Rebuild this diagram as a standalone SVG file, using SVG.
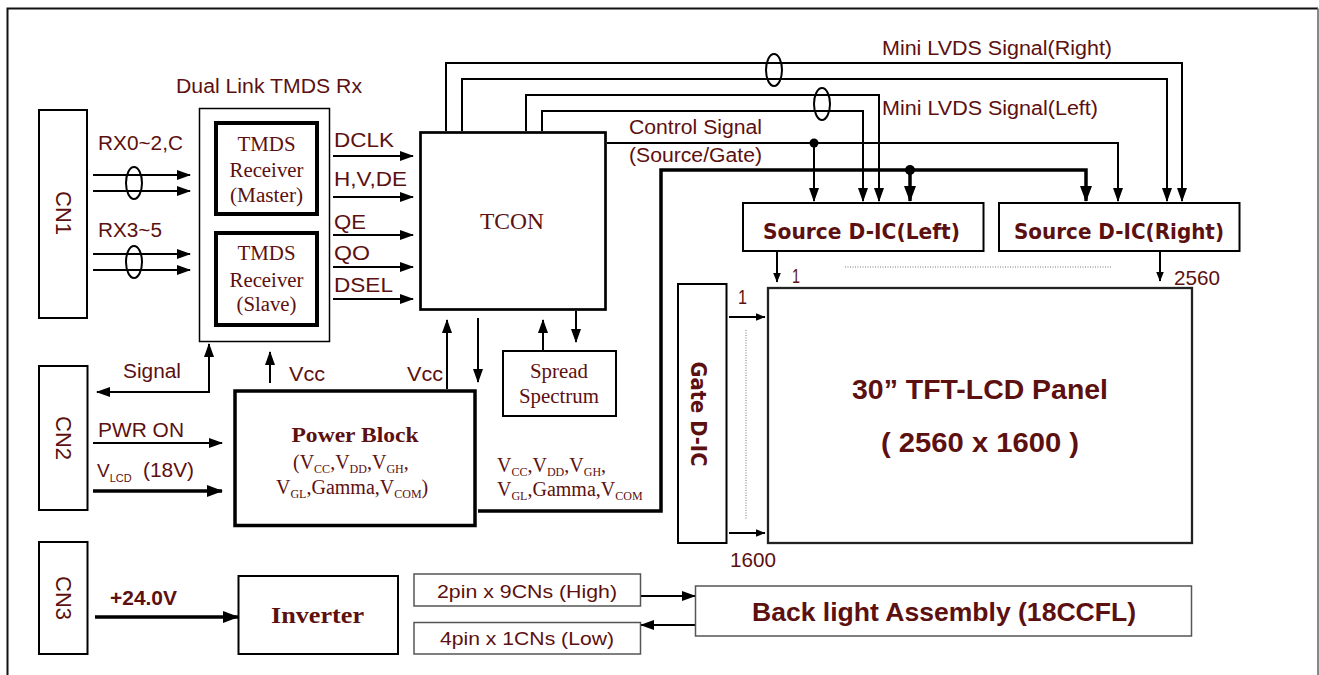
<svg xmlns="http://www.w3.org/2000/svg" width="1319" height="675" viewBox="0 0 1319 675">
<style>
.t{font-family:"Liberation Sans",Arial,sans-serif;fill:#5c1010}
.s{font-family:"Liberation Serif","Times New Roman",serif;fill:#5c1010}
.m{font-family:"DejaVu Sans",sans-serif;font-weight:bold;fill:#5c1010}
.box{fill:#fff;stroke:#000;stroke-width:2}
.gbox{fill:#fff;stroke:#555;stroke-width:1.5}
.ln{fill:none;stroke:#000;stroke-width:2}
.thk{fill:none;stroke:#000;stroke-width:3.5}
.dot{fill:none;stroke:#777;stroke-width:1;stroke-dasharray:1 1.5}
</style>
<defs>
<marker id="ah" viewBox="0 0 14 10" refX="13" refY="5" markerWidth="14" markerHeight="10" markerUnits="userSpaceOnUse" orient="auto-start-reverse"><path d="M0,0 L14,5 L0,10 z" fill="#000"/></marker>
<marker id="aT" viewBox="0 0 16 12" refX="15" refY="6" markerWidth="16" markerHeight="12" markerUnits="userSpaceOnUse" orient="auto"><path d="M0,0 L16,6 L0,12 z" fill="#000"/></marker>
<marker id="aS" viewBox="0 0 10 8" refX="9.5" refY="4" markerWidth="10" markerHeight="8" markerUnits="userSpaceOnUse" orient="auto"><path d="M0,0 L10,4 L0,8 z" fill="#000"/></marker>
</defs>
<rect width="1319" height="675" fill="#fff"/>
<path d="M7.5,675 V8.5 H1318" fill="none" stroke="#111" stroke-width="2"/>
<path d="M1318,8.5 V675" fill="none" stroke="#888" stroke-width="2"/>

<g id="connectors">
<path class="ln" d="M93,175 H190" marker-end="url(#ah)"/>
<path class="ln" d="M93,191 H190" marker-end="url(#ah)"/>
<path class="ln" d="M93,254 H190" marker-end="url(#ah)"/>
<path class="ln" d="M93,270 H190" marker-end="url(#ah)"/>
<ellipse cx="134" cy="183" rx="8" ry="16" class="ln"/>
<ellipse cx="134" cy="262" rx="8" ry="16" class="ln"/>
<path class="ln" d="M333,156 H413" marker-end="url(#ah)"/>
<path class="ln" d="M333,197 H413" marker-end="url(#ah)"/>
<path class="ln" d="M333,235 H413" marker-end="url(#ah)"/>
<path class="ln" d="M333,267 H413" marker-end="url(#ah)"/>
<path class="ln" d="M333,299 H413" marker-end="url(#ah)"/>
<path class="ln" d="M446,131 V63 H1182 V201" marker-end="url(#ah)"/>
<path class="ln" d="M462,131 V79 H1167 V201" marker-end="url(#ah)"/>
<path class="ln" d="M526,131 V95 H879 V201" marker-end="url(#ah)"/>
<path class="ln" d="M542,131 V111 H863 V201" marker-end="url(#ah)"/>
<ellipse cx="774" cy="70" rx="8" ry="16" class="ln"/>
<ellipse cx="822" cy="104" rx="8" ry="16" class="ln"/>
<path class="ln" d="M607,143 H1118 V201" marker-end="url(#ah)"/>
<circle cx="814" cy="143" r="4.5" fill="#000"/>
<path class="ln" d="M814,143 V201" marker-end="url(#ah)"/>
<path class="thk" d="M478,511 H661 V170 H1086 V201" marker-end="url(#aT)"/>
<circle cx="910" cy="170" r="5" fill="#000"/>
<path class="thk" d="M910,170 V201" marker-end="url(#aT)"/>
<path class="ln" d="M447,389 V320" marker-end="url(#ah)"/>
<path class="ln" d="M478,318 V382" marker-end="url(#ah)"/>
<path class="ln" d="M543,351 V320" marker-end="url(#ah)"/>
<path class="ln" d="M576,311 V342" marker-end="url(#ah)"/>
<path class="ln" d="M97,392 H209 V344" marker-start="url(#ah)" marker-end="url(#ah)"/>
<path class="ln" d="M270,383 V352" marker-end="url(#ah)"/>
<path class="ln" d="M93,443 H222" marker-end="url(#ah)"/>
<path class="thk" d="M93,491 H222" marker-end="url(#aT)"/>
<path class="thk" d="M95,617 H238" marker-end="url(#aT)"/>
<path class="ln" d="M641,596 H695" marker-end="url(#ah)"/>
<path class="ln" d="M695,625 H641" marker-end="url(#ah)"/>
<path class="ln" d="M777,251 V282" stroke-width="1.5" marker-end="url(#aS)"/>
<path class="ln" d="M1160,251 V281" stroke-width="1.5" marker-end="url(#aS)"/>
<path class="ln" d="M729,317 H765" stroke-width="1.5" marker-end="url(#aS)"/>
<path class="ln" d="M729,533 H765" stroke-width="1.5" marker-end="url(#aS)"/>
<path class="dot" d="M845,267 H1112"/>
<path class="dot" d="M746,330 V520"/>
</g>

<g id="labels">
<text class="t" x="98" y="150" font-size="20" textLength="85" lengthAdjust="spacingAndGlyphs">RX0~2,C</text>
<text class="t" x="98" y="237" font-size="20" textLength="64" lengthAdjust="spacingAndGlyphs">RX3~5</text>
<text class="t" x="334" y="147" font-size="20" textLength="60" lengthAdjust="spacingAndGlyphs">DCLK</text>
<text class="t" x="334" y="186" font-size="20" textLength="73" lengthAdjust="spacingAndGlyphs">H,V,DE</text>
<text class="t" x="334" y="229" font-size="20" textLength="32" lengthAdjust="spacingAndGlyphs">QE</text>
<text class="t" x="334" y="260" font-size="20" textLength="36" lengthAdjust="spacingAndGlyphs">QO</text>
<text class="t" x="334" y="292" font-size="20" textLength="59" lengthAdjust="spacingAndGlyphs">DSEL</text>
<text class="t" x="629" y="134" font-size="19.5" textLength="133" lengthAdjust="spacingAndGlyphs">Control Signal</text>
<text class="t" x="629" y="162" font-size="19.5" textLength="133" lengthAdjust="spacingAndGlyphs">(Source/Gate)</text>
<text class="t" x="882" y="55" font-size="19.5" textLength="230" lengthAdjust="spacingAndGlyphs">Mini LVDS Signal(Right)</text>
<text class="t" x="882" y="115" font-size="19.5" textLength="216" lengthAdjust="spacingAndGlyphs">Mini LVDS Signal(Left)</text>
<text class="t" x="792" y="283" font-size="20" textLength="8" lengthAdjust="spacingAndGlyphs">1</text>
<text class="t" x="1174" y="285" font-size="21" textLength="46" lengthAdjust="spacingAndGlyphs">2560</text>
<text class="t" x="738" y="304" font-size="20" textLength="9" lengthAdjust="spacingAndGlyphs">1</text>
<text class="t" x="730" y="567" font-size="21" textLength="46" lengthAdjust="spacingAndGlyphs">1600</text>
<text class="t" x="123" y="378" font-size="20" textLength="58" lengthAdjust="spacingAndGlyphs">Signal</text>
<text class="t" x="289" y="381" font-size="20" textLength="36" lengthAdjust="spacingAndGlyphs">Vcc</text>
<text class="t" x="407" y="381" font-size="20" textLength="36" lengthAdjust="spacingAndGlyphs">Vcc</text>
<text class="t" x="98" y="437" font-size="20" textLength="86" lengthAdjust="spacingAndGlyphs">PWR ON</text>
<text class="t" x="97" y="477" font-size="19" fill="#7a2020">V<tspan font-size="11" dy="5">LCD</tspan></text>
<text class="t" x="143" y="477" font-size="20" textLength="51" lengthAdjust="spacingAndGlyphs">(18V)</text>
<text class="s" x="497" y="472" font-size="20">V<tspan font-size="12" dy="4">CC</tspan><tspan dy="-4">,V</tspan><tspan font-size="12" dy="4">DD</tspan><tspan dy="-4">,V</tspan><tspan font-size="12" dy="4">GH</tspan><tspan dy="-4">,</tspan></text>
<text class="s" x="497" y="496" font-size="20">V<tspan font-size="12" dy="4">GL</tspan><tspan dy="-4">,Gamma,V</tspan><tspan font-size="12" dy="4">COM</tspan></text>
<text class="t" x="110" y="605" font-size="20" font-weight="bold" textLength="67" lengthAdjust="spacingAndGlyphs">+24.0V</text>
</g>

<g id="cn1">
<rect class="box" x="39" y="110" width="48" height="208"/>
<text class="t" font-size="22" text-anchor="middle" dominant-baseline="central" transform="translate(63,213) rotate(90)">CN1</text>
</g>
<g id="tmds">
<text class="t" x="176" y="93" font-size="20" textLength="186" lengthAdjust="spacingAndGlyphs">Dual Link TMDS Rx</text>
<rect x="199.5" y="108.5" width="130" height="233" fill="#fff" stroke="#000" stroke-width="1.5"/>
</g>
<g id="tmds-master">
<rect x="216" y="123" width="101" height="91" fill="#fff" stroke="#000" stroke-width="4"/>
<text class="s" x="266.5" y="151" font-size="20" text-anchor="middle" textLength="58" lengthAdjust="spacingAndGlyphs">TMDS</text>
<text class="s" x="266.5" y="177" font-size="20" text-anchor="middle" textLength="74" lengthAdjust="spacingAndGlyphs">Receiver</text>
<text class="s" x="266.5" y="202" font-size="20" text-anchor="middle" textLength="73" lengthAdjust="spacingAndGlyphs">(Master)</text>
</g>
<g id="tmds-slave">
<rect x="216" y="233" width="101" height="92" fill="#fff" stroke="#000" stroke-width="4"/>
<text class="s" x="266.5" y="260" font-size="20" text-anchor="middle" textLength="58" lengthAdjust="spacingAndGlyphs">TMDS</text>
<text class="s" x="266.5" y="287" font-size="20" text-anchor="middle" textLength="74" lengthAdjust="spacingAndGlyphs">Receiver</text>
<text class="s" x="266.5" y="311" font-size="20" text-anchor="middle" textLength="60" lengthAdjust="spacingAndGlyphs">(Slave)</text>
</g>
<g id="tcon">
<rect x="420.5" y="132.5" width="185" height="177" fill="#fff" stroke="#000" stroke-width="2.7"/>
<text class="s" x="512" y="229" font-size="24" text-anchor="middle" textLength="64" lengthAdjust="spacingAndGlyphs">TCON</text>
</g>
<g id="source-left">
<rect class="box" x="743" y="203" width="240.5" height="48"/>
<text class="m" x="763" y="239" font-size="22" textLength="197" lengthAdjust="spacingAndGlyphs">Source D-IC(Left)</text>
</g>
<g id="source-right">
<rect class="box" x="999" y="203" width="240.5" height="48"/>
<text class="m" x="1014" y="239" font-size="22" textLength="210" lengthAdjust="spacingAndGlyphs">Source D-IC(Right)</text>
</g>
<g id="gate">
<rect class="box" x="678" y="284" width="48.5" height="259"/>
<text class="m" font-size="21" text-anchor="middle" dominant-baseline="central" textLength="105" lengthAdjust="spacingAndGlyphs" transform="translate(698,414) rotate(90)">Gate D-IC</text>
</g>
<g id="panel">
<rect x="768" y="288" width="424" height="255" fill="#fff" stroke="#222" stroke-width="2.3"/>
<text class="t" x="980" y="399" font-size="28.5" font-weight="bold" text-anchor="middle" textLength="256" lengthAdjust="spacingAndGlyphs">30” TFT-LCD Panel</text>
<text class="t" x="980" y="452" font-size="28.5" font-weight="bold" text-anchor="middle" textLength="198" lengthAdjust="spacingAndGlyphs">( 2560 x 1600 )</text>
</g>
<g id="spread">
<rect class="box" x="503" y="351" width="113" height="65"/>
<text class="s" x="559" y="378" font-size="20" text-anchor="middle" textLength="58" lengthAdjust="spacingAndGlyphs">Spread</text>
<text class="s" x="559" y="403" font-size="20" text-anchor="middle" textLength="80" lengthAdjust="spacingAndGlyphs">Spectrum</text>
</g>
<g id="cn2">
<rect class="box" x="39" y="366" width="48.5" height="144"/>
<text class="t" font-size="22" text-anchor="middle" dominant-baseline="central" transform="translate(63,438) rotate(90)">CN2</text>
</g>
<g id="power">
<rect x="235" y="391" width="240" height="134.5" fill="#fff" stroke="#000" stroke-width="3.5"/>
<text class="s" x="355" y="442" font-size="22" font-weight="bold" text-anchor="middle" textLength="127" lengthAdjust="spacingAndGlyphs">Power Block</text>
<text class="s" x="293" y="469" font-size="20">(V<tspan font-size="12" dy="4">CC</tspan><tspan dy="-4">,V</tspan><tspan font-size="12" dy="4">DD</tspan><tspan dy="-4">,V</tspan><tspan font-size="12" dy="4">GH</tspan><tspan dy="-4">,</tspan></text>
<text class="s" x="276" y="494" font-size="20">V<tspan font-size="12" dy="4">GL</tspan><tspan dy="-4">,Gamma,V</tspan><tspan font-size="12" dy="4">COM</tspan><tspan dy="-4">)</tspan></text>
</g>
<g id="cn3">
<rect class="box" x="39" y="542" width="48.5" height="112"/>
<text class="t" font-size="22" text-anchor="middle" dominant-baseline="central" transform="translate(63,598) rotate(90)">CN3</text>
</g>
<g id="inverter">
<rect class="box" x="238.5" y="576" width="159.5" height="78"/>
<text class="s" x="317.5" y="623" font-size="24" font-weight="bold" text-anchor="middle" textLength="93" lengthAdjust="spacingAndGlyphs">Inverter</text>
</g>
<g id="pin-high">
<rect class="gbox" x="414" y="574" width="226.5" height="32"/>
<text class="t" x="437" y="598" font-size="19" textLength="180" lengthAdjust="spacingAndGlyphs">2pin x 9CNs (High)</text>
</g>
<g id="pin-low">
<rect class="gbox" x="414" y="622.5" width="226.5" height="31.5"/>
<text class="t" x="440" y="645" font-size="19" textLength="174" lengthAdjust="spacingAndGlyphs">4pin x 1CNs (Low)</text>
</g>
<g id="backlight">
<rect class="gbox" x="695.5" y="586" width="496" height="50"/>
<text class="t" x="752" y="621" font-size="26.5" font-weight="bold" textLength="384" lengthAdjust="spacingAndGlyphs">Back light Assembly (18CCFL)</text>
</g>
</svg>
